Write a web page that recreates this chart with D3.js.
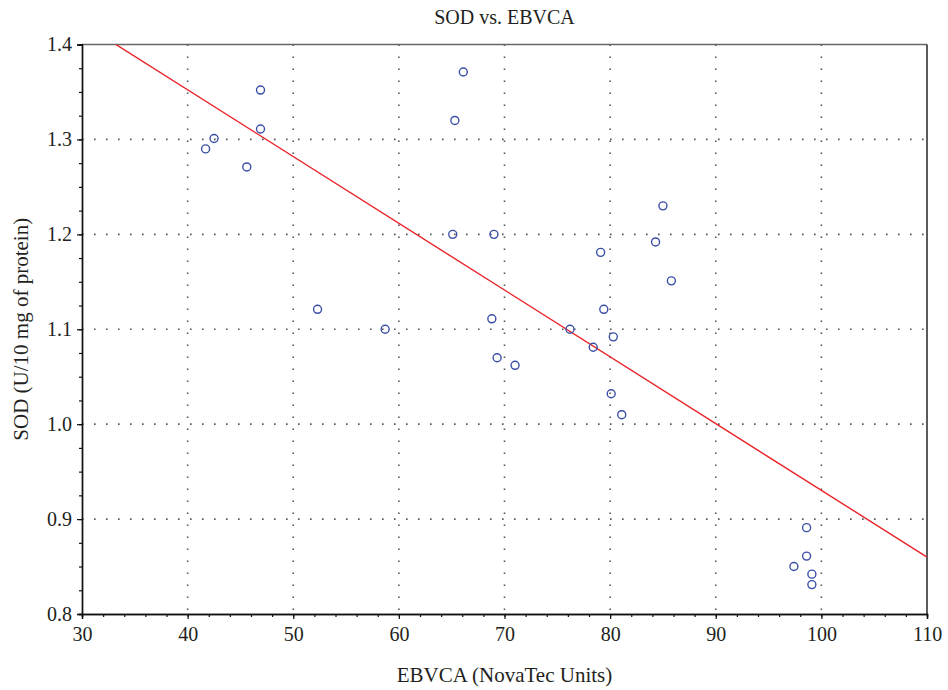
<!DOCTYPE html>
<html>
<head>
<meta charset="utf-8">
<script src="https://cdn.jsdelivr.net/npm/d3@7"></script>
<style>
  html, body { margin: 0; padding: 0; background: #fff; }
  svg text { font-family: "Liberation Serif", "DejaVu Serif", serif; fill: #231f20; }
</style>
</head>
<body>
<svg id="chart" width="948" height="690"></svg>
<script>
// EBVCA titre (NovaTec Units) and SOD activity (U/10 mg of protein) per subject
const ebvca = [41.7, 42.5, 45.6, 46.9, 46.9, 52.3, 58.7, 65.1, 65.3, 66.1,
               68.8, 69.0, 69.3, 71.0, 76.2, 78.4, 79.1, 79.4, 80.1, 80.3,
               81.1, 84.3, 85.0, 85.8, 97.4, 98.6, 98.6, 99.1, 99.1];
const sod   = [1.290, 1.301, 1.271, 1.352, 1.311, 1.121, 1.100, 1.200, 1.320, 1.371,
               1.111, 1.200, 1.070, 1.062, 1.100, 1.081, 1.181, 1.121, 1.032, 1.092,
               1.010, 1.192, 1.230, 1.151, 0.850, 0.891, 0.861, 0.842, 0.831];

// Least-squares fit line: SOD = intercept + slope * EBVCA
const fitIntercept = 1.6336;
const fitSlope = -0.007033;

const xTicks = [30, 40, 50, 60, 70, 80, 90, 100, 110];
const yTicks = [0.8, 0.9, 1.0, 1.1, 1.2, 1.3, 1.4];

const svg = d3.select("#chart");
const margin = { top: 44.5, right: 21, bottom: 76, left: 82 };
const W = 948 - margin.left - margin.right;
const H = 690 - margin.top - margin.bottom;

const x = d3.scaleLinear().domain([30, 110]).range([0, W]);
const y = d3.scaleLinear().domain([0.8, 1.4]).range([H, 0]);

const g = svg.append("g").attr("transform", `translate(${margin.left},${margin.top})`);

g.append("clipPath").attr("id", "plot-clip")
  .append("rect").attr("width", W).attr("height", H);

// dotted grid at inner major ticks
const grid = g.append("g").attr("stroke", "#555").attr("stroke-width", 1.6)
  .attr("stroke-dasharray", "1.6,10.4");
grid.selectAll("line.vx").data(xTicks.slice(1, -1)).join("line")
  .attr("x1", d => x(d)).attr("x2", d => x(d))
  .attr("y1", 0).attr("y2", H);
grid.selectAll("line.hy").data(yTicks.slice(1, -1)).join("line")
  .attr("x1", 0).attr("x2", W)
  .attr("y1", d => y(d)).attr("y2", d => y(d));

// frame: top and right edges
g.append("line").attr("x1", 0).attr("x2", W).attr("y1", 0).attr("y2", 0)
  .attr("stroke", "#666").attr("stroke-width", 1.6);
g.append("line").attr("x1", W).attr("x2", W).attr("y1", 0).attr("y2", H)
  .attr("stroke", "#333").attr("stroke-width", 1.6);

// axes with major and minor ticks
function styleAxis(sel) {
  sel.select(".domain").attr("stroke", "#111").attr("stroke-width", 1.4);
  sel.selectAll(".tick line").attr("stroke", "#111").attr("stroke-width", 1.2);
  sel.selectAll(".tick text").style("font-size", "20px").attr("fill", "#231f20");
}

const xMinor = d3.range(30, 110.01, 2);
const yMinor = d3.range(0.8, 1.4001, 0.025);

g.append("g").attr("transform", `translate(0,${H})`)
  .call(d3.axisBottom(x).tickValues(xMinor).tickSize(3).tickFormat(""))
  .call(styleAxis);
g.append("g").attr("transform", `translate(0,${H})`)
  .call(d3.axisBottom(x).tickValues(xTicks).tickSize(5).tickPadding(8).tickFormat(d3.format("d")))
  .call(styleAxis);

g.append("g")
  .call(d3.axisLeft(y).tickValues(yMinor).tickSize(3).tickFormat(""))
  .call(styleAxis);
g.append("g")
  .call(d3.axisLeft(y).tickValues(yTicks).tickSize(5).tickPadding(5).tickFormat(d3.format(".1f")))
  .call(styleAxis);

// regression line
const xd = x.domain();
g.append("line")
  .attr("clip-path", "url(#plot-clip)")
  .attr("x1", x(xd[0])).attr("y1", y(fitIntercept + fitSlope * xd[0]))
  .attr("x2", x(xd[1])).attr("y2", y(fitIntercept + fitSlope * xd[1]))
  .attr("stroke", "#e8232a").attr("stroke-width", 1.4);

// observations
g.append("g").selectAll("circle").data(ebvca).join("circle")
  .attr("cx", d => x(d))
  .attr("cy", (d, i) => y(sod[i]))
  .attr("r", 4)
  .attr("fill", "none")
  .attr("stroke", "#3a4fa6")
  .attr("stroke-width", 1.4);

// titles
svg.append("text").attr("x", margin.left + W / 2).attr("y", 24)
  .attr("text-anchor", "middle").style("font-size", "20px").text("SOD vs. EBVCA");
svg.append("text").attr("x", margin.left + W / 2).attr("y", 682)
  .attr("text-anchor", "middle").style("font-size", "21px").text("EBVCA (NovaTec Units)");
svg.append("text")
  .attr("transform", `translate(28,${margin.top + H / 2}) rotate(-90)`)
  .attr("text-anchor", "middle").style("font-size", "21px").text("SOD (U/10 mg of protein)");
</script>
</body>
</html>
